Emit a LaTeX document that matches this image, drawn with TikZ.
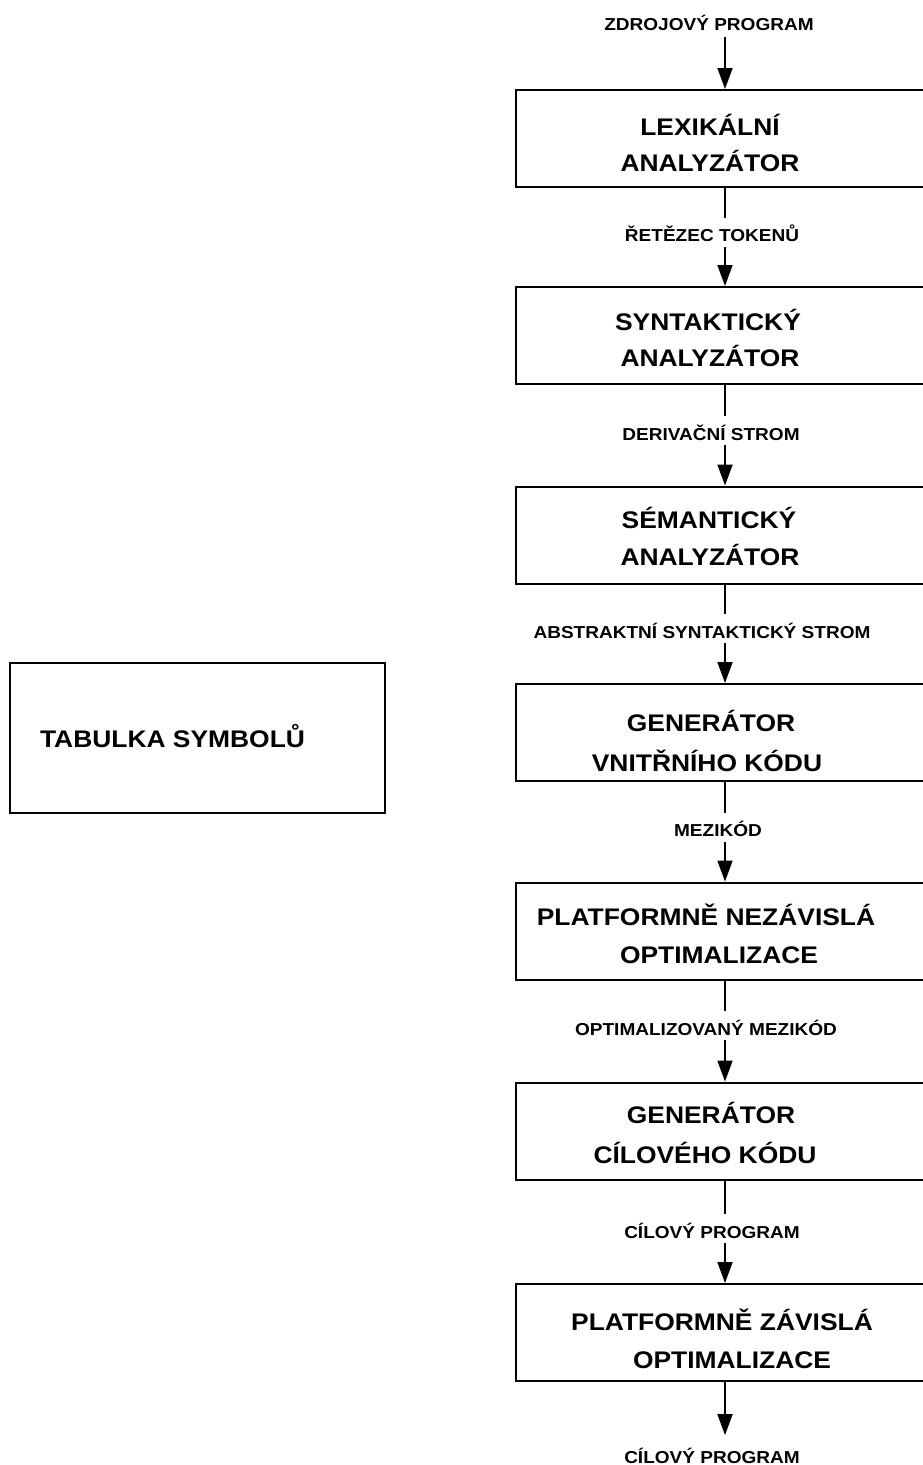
\documentclass[tikz,border=0pt]{standalone}
\usepackage{fontspec}
\setmainfont{Liberation Sans}[FakeStretch=1.1]
\usetikzlibrary{arrows.meta}
\tikzset{
  box/.style={draw, line width=2pt, minimum width=418pt, minimum height=97pt, inner sep=0pt},
  tbox/.style={draw, line width=2pt, inner sep=0pt},
  boxtxt/.style={anchor=base, inner sep=0pt, font=\fontsize{24}{28}\selectfont\bfseries},
  lbl/.style={anchor=base, fill=white, inner xsep=3pt, inner ysep=0pt, text height=24pt, text depth=5pt, font=\fontsize{17.3}{20}\selectfont\bfseries},
  endlbl/.style={anchor=base, inner xsep=3pt, inner ysep=0pt, font=\fontsize{17.3}{20}\selectfont\bfseries},
  arr/.style={line width=1.8pt, -{Triangle[length=21pt,width=15pt]}}
}
\begin{document}
\begin{tikzpicture}[x=1pt,y=-1pt]
\useasboundingbox (0,0) rectangle (923,1465);
% boxes
\node[box] (b1) at (725,138.5) {};
\node[box] (b2) at (725,335.5) {};
\node[box] (b3) at (725,535) {};
\node[box] (b4) at (725,732.5) {};
\node[box] (b5) at (725,931) {};
\node[box] (b6) at (725,1131) {};
\node[box] (b7) at (725,1332.5) {};
\node[tbox, minimum width=375pt, minimum height=150pt] (tab) at (197.5,738) {};
% box texts
\node[boxtxt] (t1a) at (710,135) {LEXIKÁLNÍ};
\node[boxtxt] (t1b) at (710,171.7) {ANALYZÁTOR};
\node[boxtxt] (t2a) at (708,330) {SYNTAKTICKÝ};
\node[boxtxt] (t2b) at (710,366.7) {ANALYZÁTOR};
\node[boxtxt] (t3a) at (709,528.3) {SÉMANTICKÝ};
\node[boxtxt] (t3b) at (710,565) {ANALYZÁTOR};
\node[boxtxt] (t4a) at (711,731.7) {GENERÁTOR};
\node[boxtxt] (t4b) at (707,771.7) {VNITŘNÍHO KÓDU};
\node[boxtxt] (t5a) at (706,925) {PLATFORMNĚ NEZÁVISLÁ};
\node[boxtxt] (t5b) at (719,963.3) {OPTIMALIZACE};
\node[boxtxt] (t6a) at (711,1123.3) {GENERÁTOR};
\node[boxtxt] (t6b) at (705,1163.3) {CÍLOVÉHO KÓDU};
\node[boxtxt] (t7a) at (722,1330) {PLATFORMNĚ ZÁVISLÁ};
\node[boxtxt] (t7b) at (732,1368.3) {OPTIMALIZACE};
\node[boxtxt] (ttab) at (172.5,747) {TABULKA SYMBOLŮ};
% connectors
\node[endlbl, text depth=7pt] (l1) at (709,30) {ZDROJOVÝ PROGRAM};
\draw[arr] (l1.south -| b1.north) -- (b1.north);
\draw[arr] (b1.south) -- (b2.north);
\draw[arr] (b2.south) -- (b3.north);
\draw[arr] (b3.south) -- (b4.north);
\draw[arr] (b4.south) -- (b5.north);
\draw[arr] (b5.south) -- (b6.north);
\draw[arr] (b6.south) -- (b7.north);
\node[lbl] (l2) at (712,241.7) {ŘETĚZEC TOKENŮ};
\node[lbl] (l3) at (711,440) {DERIVAČNÍ STROM};
\node[lbl] (l4) at (702,638.3) {ABSTRAKTNÍ SYNTAKTICKÝ STROM};
\node[lbl] (l5) at (718,836.7) {MEZIKÓD};
\node[lbl] (l6) at (706,1035) {OPTIMALIZOVANÝ MEZIKÓD};
\node[lbl] (l7) at (712,1238.3) {CÍLOVÝ PROGRAM};
\node[endlbl, text height=28pt] (l8) at (712,1463.3) {CÍLOVÝ PROGRAM};
\draw[arr] (b7.south) -- (l8.north -| b7.south);
\end{tikzpicture}
\end{document}
